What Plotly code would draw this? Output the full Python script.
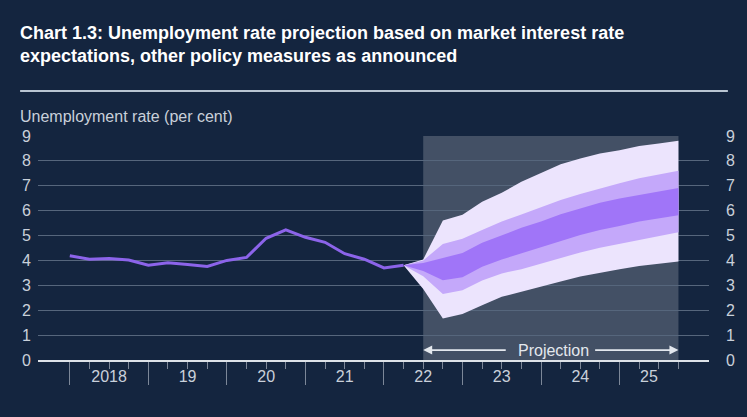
import plotly.graph_objects as go

# ---- data ----
hist_x = [2018 + i * 0.25 for i in range(18)]
hist_y = [4.19, 4.05, 4.08, 4.02, 3.81, 3.91, 3.84, 3.76, 4.0, 4.12,
          4.89, 5.23, 4.93, 4.73, 4.27, 4.05, 3.70, 3.81]

fan_x = [2022.25 + i * 0.25 for i in range(15)]
outer_hi = [3.81, 4.04, 5.60, 5.84, 6.36, 6.72, 7.16, 7.50, 7.86, 8.10, 8.30, 8.43, 8.60, 8.70, 8.81]
mid_hi = [3.81, 4.00, 4.66, 4.87, 5.22, 5.56, 5.85, 6.13, 6.43, 6.67, 6.90, 7.10, 7.30, 7.46, 7.60]
inner_hi = [3.81, 3.90, 4.10, 4.30, 4.71, 5.02, 5.31, 5.56, 5.86, 6.09, 6.32, 6.49, 6.63, 6.79, 6.91]
inner_lo = [3.81, 3.58, 3.20, 3.32, 3.75, 4.04, 4.28, 4.51, 4.78, 5.02, 5.22, 5.38, 5.56, 5.69, 5.82]
mid_lo = [3.81, 3.36, 2.65, 2.80, 3.19, 3.48, 3.65, 3.88, 4.10, 4.32, 4.51, 4.66, 4.82, 4.98, 5.13]
outer_lo = [3.81, 2.85, 1.67, 1.85, 2.20, 2.54, 2.72, 2.95, 3.15, 3.35, 3.50, 3.65, 3.78, 3.88, 3.96]

year_ticks = [2018, 2019, 2020, 2021, 2022, 2023, 2024, 2025]
quarter_ticks = [y + q * 0.25 for y in range(2018, 2026) for q in (1, 2, 3)]
label_pos = [2018.5, 2019.5, 2020.5, 2021.5, 2022.5, 2023.5, 2024.5, 2025.375]
label_text = ["2018", "19", "20", "21", "22", "23", "24", "25"]
y_ticks = list(range(10))

proj_start, proj_end = 2022.5, 2025.75

BG = "#14253f"
FONT = "Liberation Sans, Arial, sans-serif"
TXT = "#c9d0da"

fig = go.Figure()

def band(lo, hi, color):
    fig.add_trace(go.Scatter(
        x=fan_x + fan_x[::-1], y=hi + lo[::-1], fill="toself", fillcolor=color,
        line=dict(width=0, color=color), mode="lines", hoverinfo="skip", showlegend=False))

band(outer_lo, outer_hi, "#ece4fd")
band(mid_lo, mid_hi, "#c4a8fa")
band(inner_lo, inner_hi, "#a075f8")

fig.add_trace(go.Scatter(x=hist_x, y=hist_y, mode="lines",
                         line=dict(color="#8c64ea", width=3), showlegend=False))
# invisible trace for right axis / label axis
fig.add_trace(go.Scatter(x=[hist_x[0]], y=[hist_y[0]], yaxis="y2", xaxis="x2",
                         mode="markers", marker=dict(opacity=0), showlegend=False, hoverinfo="skip"))

xr = [2017.595, 2026.139]

fig.update_layout(
    width=747, height=417,
    margin=dict(l=38, r=34, t=136, b=57),
    paper_bgcolor=BG, plot_bgcolor=BG,
    font=dict(family=FONT, color=TXT),
    title=dict(
        text="Chart 1.3: Unemployment rate projection based on market interest rate<br>expectations, other policy measures as announced",
        x=20 / 747, xanchor="left", xref="container",
        y=1 - 39 / 417, yanchor="top", yref="container",
        font=dict(family=FONT, size=18, color="#ffffff", weight="bold")),
    xaxis=dict(range=xr, showgrid=False, zeroline=False,
               showline=True, linecolor="#dde2e8", linewidth=2,
               tickmode="array", tickvals=year_ticks, ticktext=[""] * len(year_ticks),
               ticks="outside", ticklen=23, tickcolor="#7c8798", tickwidth=1,
               minor=dict(tickmode="array", tickvals=quarter_ticks, ticks="outside",
                          ticklen=7, tickcolor="#7c8798", tickwidth=1, showgrid=False),
               fixedrange=True),
    xaxis2=dict(range=xr, overlaying="x", anchor="y", side="bottom",
                showgrid=False, zeroline=False, showline=False,
                tickmode="array", tickvals=label_pos, ticktext=label_text, ticks="",
                tickfont=dict(size=16, color=TXT), ticklabelstandoff=5),
    yaxis=dict(range=[0, 9], tickmode="array", tickvals=y_ticks,
               showgrid=True, gridcolor="#56667c", gridwidth=1, zeroline=False,
               tickfont=dict(size=16, color=TXT), ticks="", ticklabelstandoff=6),
    yaxis2=dict(range=[0, 9], overlaying="y", side="right", anchor="x",
                tickmode="array", tickvals=y_ticks, showgrid=False, zeroline=False,
                tickfont=dict(size=16, color=TXT), ticks="", ticklabelstandoff=16),
    showlegend=False,
)

# projection shading
fig.add_shape(type="rect", xref="x", yref="y", x0=proj_start, x1=proj_end, y0=0, y1=9,
              fillcolor="rgba(255,255,255,0.2)", line=dict(width=0), layer="below")
# separator under title
fig.add_shape(type="line", xref="paper", yref="paper",
              x0=(20 - 38) / 675, x1=(732 - 38) / 675, y0=(360 - 91) / 224, y1=(360 - 91) / 224,
              line=dict(color="#b9c5d2", width=2))

fig.add_annotation(text="Unemployment rate (per cent)", xref="paper", yref="paper",
                   x=(20 - 38) / 675, y=(360 - 116) / 224, xanchor="left", yanchor="middle",
                   xshift=-2, showarrow=False, font=dict(size=16, color=TXT))

# projection arrows
ARROW = "#e4e8ee"
fig.add_annotation(x=proj_start, y=0.4, ax=2023.57, ay=0.4, axref="x", ayref="y",
                   xref="x", yref="y", text="", showarrow=True, arrowhead=2,
                   arrowsize=1, arrowwidth=1.8, arrowcolor=ARROW)
fig.add_annotation(x=proj_end, y=0.4, ax=2024.67, ay=0.4, axref="x", ayref="y",
                   xref="x", yref="y", text="", showarrow=True, arrowhead=2,
                   arrowsize=1, arrowwidth=1.8, arrowcolor=ARROW)
fig.add_annotation(x=2024.16, y=0.4, xref="x", yref="y", text="Projection",
                   showarrow=False, font=dict(size=16, color=ARROW))

fig.write_html("out.html")
